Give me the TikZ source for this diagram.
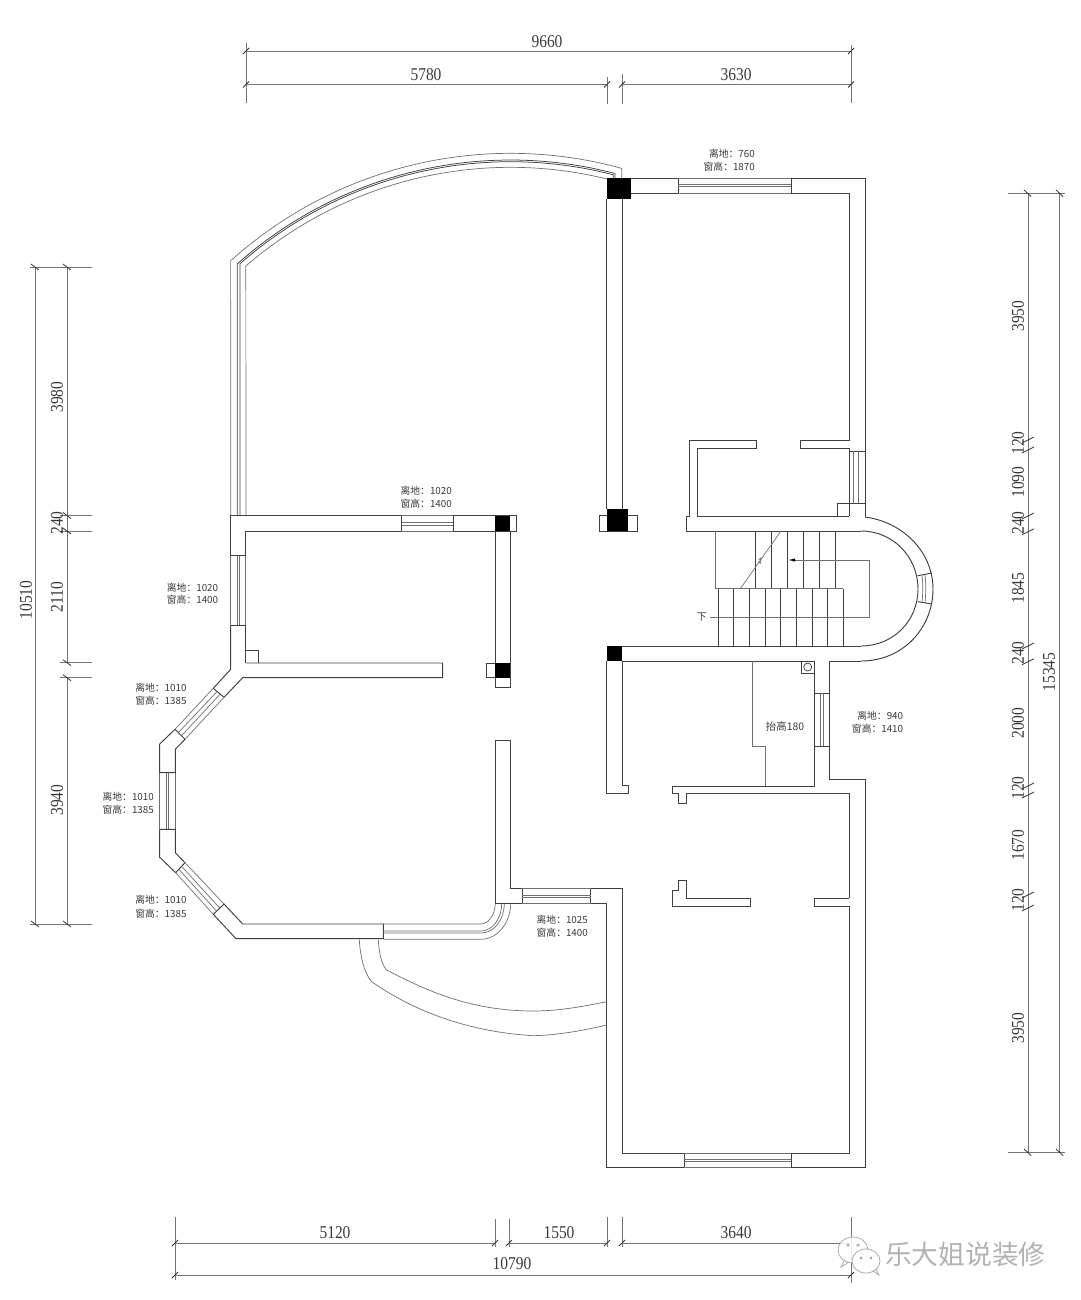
\documentclass[tikz,border=0pt]{standalone}
\usepackage{fontspec}
\setmainfont{Liberation Sans}
\newfontfamily\cjkfont{Noto Sans CJK SC}
\newfontfamily\dimfont[FakeStretch=0.86]{Liberation Serif}
\definecolor{wallc}{HTML}{404040}
\definecolor{thinc}{HTML}{707070}
\definecolor{dimc}{HTML}{757575}
\definecolor{txtc}{HTML}{3A3A3A}
\tikzset{
  wall/.style={draw=wallc,line width=0.95pt,line join=miter},
  thinl/.style={draw=thinc,line width=0.7pt},
  dimline/.style={draw=dimc,line width=0.8pt},
  slash/.style={draw=black!80,line width=0.8pt},
  dimtext/.style={text=txtc,font=\dimfont\fontsize{18}{18}\selectfont,inner sep=0pt},
  dimtextv/.style={dimtext,rotate=90},
  winlabel/.style={text=txtc,font=\cjkfont\fontsize{9.8}{10}\selectfont,inner sep=0pt,anchor=east}
}
\newcommand{\hslash}[2]{\draw[slash] (#1-3,#2+3) -- (#1+3,#2-3);}
\begin{document}
\begin{tikzpicture}[x=1pt,y=-1pt]
\useasboundingbox (0,0) rectangle (1080,1300);
\fill[white] (0,0) rectangle (1080,1300);

% ---- top dimensions
\draw[dimline] (246,51) -- (851,51);
\draw[dimline] (246,84.5) -- (607,84.5);
\draw[dimline] (622,84.5) -- (851,84.5);
\draw[dimline] (246,43) -- (246,103);
\draw[dimline] (607,77) -- (607,104) (622,74) -- (622,104);
\draw[dimline] (851,45) -- (851,103);
\hslash{246}{51}\hslash{851}{51}\hslash{246}{84.5}\hslash{607}{84.5}\hslash{622}{84.5}\hslash{851}{84.5}
\node[dimtext] (d9660) at (547,42) {9660};
\node[dimtext] (d5780) at (426,75) {5780};
\node[dimtext] (d3630) at (736,75) {3630};

% ---- bottom dimensions
\draw[dimline] (175,1243) -- (495,1243) (509,1243) -- (607,1243) (622,1243) -- (851,1243);
\draw[dimline] (175,1275) -- (851,1275);
\draw[dimline] (175,1217) -- (175,1280);
\draw[dimline] (495,1219) -- (495,1247) (509,1219) -- (509,1247) (607,1217) -- (607,1247) (622,1217) -- (622,1247);
\draw[dimline] (851,1217) -- (851,1283);
\hslash{175}{1243}\hslash{495}{1243}\hslash{509}{1243}\hslash{607}{1243}\hslash{622}{1243}\hslash{175}{1275}\hslash{851}{1275}
\node[dimtext] (d5120) at (335,1233) {5120};
\node[dimtext] (d1550) at (559,1233) {1550};
\node[dimtext] (d3640) at (736,1233) {3640};
\node[dimtext] (d10790) at (512,1264) {10790};

% ---- left dimensions
\draw[dimline] (35,267) -- (35,924);
\draw[dimline] (67,267) -- (67,662.7) (67,677.7) -- (67,924);
\draw[dimline] (30,267) -- (92,267) (60,515.5) -- (92,515.5) (60,531) -- (92,531);
\draw[dimline] (60,662.7) -- (92,662.7) (60,677.7) -- (92,677.7) (30,924) -- (92,924);
\foreach \yy in {267,515.5,531,662.7,677.7,924}{\draw[slash] (63,\yy-3) -- (71,\yy+3);}
\draw[slash] (31,264) -- (39,270) (31,921) -- (39,927);
\node[dimtextv] (d3980) at (57,397) {3980};
\node[dimtextv] (dl240) at (57,523) {240};
\node[dimtextv] (d2110) at (57,597) {2110};
\node[dimtextv] (d3940) at (57,800) {3940};
\node[dimtextv] (d10510) at (26,600) {10510};

% ---- right dimensions
\draw[dimline] (1028,193) -- (1028,1152);
\draw[dimline] (1059.5,193) -- (1059.5,1152);
\draw[dimline] (1008,193) -- (1065,193) (1008,1152) -- (1065,1152);
\foreach \yy in {440,450,516,531.7,646,661.7,786,795,895,908}{\draw[slash] (1022,\yy+3) -- (1034,\yy-3);}
\draw[slash] (1024,190) -- (1031,196.5) (1056,190) -- (1063,196.5) (1024,1149) -- (1031,1155.5) (1056,1149) -- (1063,1155.5);
\node[dimtextv] (r3950a) at (1018,316) {3950};
\node[dimtextv] (r120a) at (1018,443) {120};
\node[dimtextv] (r1090) at (1018,482) {1090};
\node[dimtextv] (r240a) at (1018,523) {240};
\node[dimtextv] (r1845) at (1018,588) {1845};
\node[dimtextv] (r240b) at (1018,653) {240};
\node[dimtextv] (r2000) at (1018,723) {2000};
\node[dimtextv] (r120b) at (1018,788) {120};
\node[dimtextv] (r1670) at (1018,845) {1670};
\node[dimtextv] (r120c) at (1018,900) {120};
\node[dimtextv] (r3950b) at (1018,1028) {3950};
\node[dimtextv] (r15345) at (1049,672) {15345};

% ---- top curved window (four concentric arcs)
\draw[thinl] (230.7,516) -- plot[domain=132:74.6,samples=50] ({510.6+418.4*cos(\x)},{571.7-418.4*sin(\x)}) -- (621.7,178);
\draw[wall,line width=.75pt] (237.3,516) -- plot[domain=131.6:75.3,samples=50] ({510.6+411.7*cos(\x)},{571.7-411.7*sin(\x)}) -- (615,178);
\draw[wall,line width=.75pt] (240,516) -- plot[domain=131.3:75.5,samples=50] ({510.6+410*cos(\x)},{571.7-410*sin(\x)}) -- (613.3,178);
\draw[thinl] (246,516) -- plot[domain=130.9:76.25,samples=50] ({510.6+404.4*cos(\x)},{571.7-404.4*sin(\x)});

% ---- pillars
\fill[black] (606.7,178.3) rectangle (630.7,199);
\draw[wall] (599,515.7) rectangle (637,531);
\fill[black] (606.7,509.3) rectangle (628,531);
\draw[wall] (495.3,515.7) -- (516,515.7) -- (516,531) -- (495.3,531);
\fill[black] (495.3,515.7) rectangle (510,531);
\draw[wall] (486.7,663) rectangle (510,677.7);
\fill[black] (495.3,663) rectangle (510,677.7);
\fill[black] (606.7,646) rectangle (622.3,661);

% ---- central column walls
\draw[wall] (606.7,199) -- (606.7,509.3) (622.3,199) -- (622.3,509.3);
\draw[wall] (495.3,531) -- (495.3,663) (510,531) -- (510,663);
\draw[wall] (495.3,677.7) -- (495.3,687.3) -- (510,687.3) -- (510,677.7);

% ---- top right room
\draw[wall] (630.7,178) -- (678,178) (791,178) -- (865,178) -- (865,516.7);
\draw[wall] (630.7,193) -- (678,193) (791,193) -- (849,193) -- (849,440) -- (800,440) -- (800,448) -- (849,448) -- (849,516);
\draw[wall] (678,178) -- (678,193) (791,178) -- (791,193);
\draw[thinl] (678,178) -- (791,178) (678,193) -- (791,193);
\draw[thinl] (678,184) -- (791,184) (678,186.5) -- (791,186.5);
% closet
\draw[wall] (756,440) -- (689,440) -- (689,516) -- (686,516) -- (686,531) -- (861,531);
\draw[wall] (756,440) -- (756,448) -- (697,448) -- (697,516) -- (849,516);
\draw[wall] (837,516) -- (837,503) -- (865,503);
\draw[wall] (849,451) -- (865,451);
\draw[thinl] (853,451) -- (853,503) (858,451) -- (858,503);

% ---- stair tower arcs
\draw[wall] (865,517) .. controls (903,522) and (933,552) .. (933,589) .. controls (933,628) and (903,661) .. (861,661);
\draw[wall] (861,531) .. controls (893,531) and (918,557) .. (918,589) .. controls (918,621) and (893,646) .. (861,646);
\draw[wall] (622.3,646) -- (861,646);
\draw[wall] (829,661) -- (861,661);
\draw[wall] (622.3,661) -- (814,661);
\draw[wall] (917.7,575.7) -- (932,573) (918,601.7) -- (932,604);
\draw[thinl] (922,575.5) .. controls (923,584) and (923,593) .. (922,602.5);
\draw[thinl] (925,575) .. controls (926,584) and (926,593) .. (925,603);

% ---- stairs
\foreach \xx in {755.3,771.7,787.3,803.3,819.3,835.7}{\draw[wall,line width=.75pt] (\xx,531) -- (\xx,588.7);}
\draw[thinl] (715,531) -- (715,588.7) -- (843.3,588.7);
\foreach \xx in {718.3,733.7,749.3,765,780.7,796.3,812.3,827.7,843.3}{\draw[wall,line width=.75pt] (\xx,588.7) -- (\xx,646);}
\draw[thinl] (781,531) -- (740.3,588.7);
\draw[thinl] (758.5,560) -- (761,558) -- (760.5,563) -- (758.5,562);
\draw[thinl] (710,617.7) -- (869.3,617.7) -- (869.3,560) -- (793,560);
\fill[black] (789,560) -- (795,558.4) -- (795,561.6) -- cycle;
\node[text=txtc,font=\cjkfont\fontsize{10}{10}\selectfont,inner sep=0pt] (xia) at (701.7,616.7) {下};

% ---- middle wall below stairs
\draw[wall] (622.3,661) -- (622.3,785.7) -- (628,785.7) -- (628,793.5) -- (606.7,793.5) -- (606.7,661);
\draw[wall] (814,661) -- (814,786) -- (672,786) -- (672,793) -- (678,793) -- (678,803) -- (686,803) -- (686,793) -- (849,793) -- (849,898);
\draw[wall] (829,661) -- (829,779) -- (865,779) -- (865,1167) -- (791,1167) (684,1167) -- (606.7,1167) -- (606.7,903.3) -- (590.7,903.3);
\draw[wall] (814,693) -- (829,693) (814,746) -- (829,746);
\draw[thinl] (820,693) -- (820,746) (823,693) -- (823,746);
\draw[wall] (801,661) -- (801,673) -- (814,673);
\draw[wall,line width=.75pt] (807.7,667) circle[radius=4];
\draw[thinl] (752,661) -- (752,746) -- (765,746) -- (765,786);
\draw[wall] (686,880) -- (678,880) -- (678,890) -- (672,890) -- (672,906) -- (750,906) -- (750,898) -- (686,898) -- cycle;
\draw[wall] (849,898) -- (814,898) -- (814,906) -- (849,906);
\draw[wall] (849,906) -- (849,1153) -- (791,1153) (684,1153) -- (622.3,1153) -- (622.3,888.3) -- (590.7,888.3) -- (590.7,903.3);
\draw[wall] (684,1153) -- (684,1167) (791,1153) -- (791,1167);
\draw[thinl] (684,1153) -- (791,1153) (684,1167) -- (791,1167);
\draw[thinl] (684,1159) -- (791,1159) (684,1161.5) -- (791,1161.5);

% ---- left room
\draw[wall] (230.7,555.7) -- (230.7,515.7) -- (401.3,515.7) (453.3,515.7) -- (495.3,515.7);
\draw[wall] (245.7,555.7) -- (245.7,531) -- (401.3,531) (453.3,531) -- (495.3,531);
\draw[wall] (230.7,555.7) -- (245.7,555.7);
\draw[wall] (401.3,515.7) -- (401.3,531) (453.3,515.7) -- (453.3,531);
\draw[thinl] (401.3,515.7) -- (453.3,515.7) (401.3,531) -- (453.3,531);
\draw[thinl] (401.3,522.7) -- (453.3,522.7) (401.3,525.3) -- (453.3,525.3);
\draw[thinl] (230.7,555.7) -- (230.7,625.3) (245.7,555.7) -- (245.7,625.3);
\draw[thinl] (237.3,555.7) -- (237.3,625.3) (239.3,555.7) -- (239.3,625.3);
\draw[wall] (230.7,625.3) -- (245.7,625.3) -- (245.7,663);
\draw[wall] (245.7,650) -- (258.3,650) -- (258.3,663);
\draw[wall] (245.7,663) -- (442.7,663) -- (442.7,677.7) -- (242.7,677.7) -- (224,697.3);
\draw[wall] (230.7,625.3) -- (230.7,669.3) -- (213.3,688.3);
\draw[wall] (213.3,688.3) -- (224,697.3);
% upper diagonal window
\draw[thinl] (213.3,688.3) -- (175,729.3) (224,697.3) -- (185,739.3);
\draw[thinl] (217,691.5) -- (178.5,732.5) (220,694.2) -- (181.5,735.8);
\draw[wall] (175,729.3) -- (185,739.3);
\draw[wall] (175,729.3) -- (159.7,744) -- (159.7,772.7) -- (175.3,772.7) -- (175.3,749.3) -- (185,739.3);
% left vertical window
\draw[thinl] (159.7,772.7) -- (159.7,829.3) (175.3,772.7) -- (175.3,829.3);
\draw[thinl] (166.3,772.7) -- (166.3,829.3) (168.7,772.7) -- (168.7,829.3);
\draw[wall] (159.7,829.3) -- (175.3,829.3) -- (175.3,852.7) -- (185,862.7);
\draw[wall] (159.7,829.3) -- (159.7,857.3) -- (175.7,872.7) -- (185,862.7);
% lower diagonal window
\draw[thinl] (175.7,872.7) -- (213.3,914.3) (185,862.7) -- (224,904);
\draw[thinl] (179,869.5) -- (216.5,911) (181.7,866.5) -- (219.5,907.8);
\draw[wall] (213.3,914.3) -- (224,904) -- (242.7,924) -- (383.3,924) -- (383.3,938.7) -- (236,938.7) -- (213.3,914.3);
% bottom curved window
\draw[thinl] (383.3,924) -- (480.7,924) .. controls (489,924) and (495.3,914) .. (495.3,903.3);
\draw[thinl] (383.3,931) -- (480.7,931) .. controls (493,931) and (501.7,918) .. (501.7,903.3);
\draw[thinl] (383.3,933) -- (480.7,933) .. controls (495,933) and (504.3,919) .. (504.3,903.3);
\draw[thinl] (383.3,939.3) -- (480.7,939.3) .. controls (498,939.3) and (510.7,922) .. (510.7,903.3);
% walls near the bottom window
\draw[wall] (495,740) -- (510,740) -- (510,888.3) -- (522.3,888.3) -- (522.3,903.3) -- (495,903.3) -- cycle;
\draw[thinl] (522.3,888.3) -- (590.7,888.3);
\draw[thinl] (522.3,903.3) -- (590.7,903.3);
\draw[thinl] (522.3,895.3) -- (590.7,895.3) (522.3,897.7) -- (590.7,897.7);

% ---- balcony curves
\draw[thinl] (378.3,939.3) .. controls (379,952) and (381,964) .. (386.7,970) .. controls (425,990) and (470,1011) .. (533.3,1011) .. controls (560,1011) and (585,1006) .. (606.7,1001.7);
\draw[thinl] (359.3,939.3) .. controls (360,955) and (364,973) .. (371.7,981.7) .. controls (415,1012) and (470,1032) .. (533.3,1035.7) .. controls (560,1035) and (585,1030) .. (606.7,1025);

% ---- window labels
\node[winlabel] (w1a) at (755,153.3) {离地：760};
\node[winlabel] (w1b) at (755,166.7) {窗高：1870};
\node[winlabel] (w2a) at (452,491) {离地：1020};
\node[winlabel] (w2b) at (452,504) {窗高：1400};
\node[winlabel] (w3a) at (218.3,587.3) {离地：1020};
\node[winlabel] (w3b) at (218.3,600) {窗高：1400};
\node[winlabel] (w4a) at (186.7,687.7) {离地：1010};
\node[winlabel] (w4b) at (186.7,701) {窗高：1385};
\node[winlabel] (w5a) at (154,797) {离地：1010};
\node[winlabel] (w5b) at (154,810) {窗高：1385};
\node[winlabel] (w6a) at (186.7,900) {离地：1010};
\node[winlabel] (w6b) at (186.7,913.3) {窗高：1385};
\node[winlabel] (w7a) at (588,920) {离地：1025};
\node[winlabel] (w7b) at (588,932.7) {窗高：1400};
\node[winlabel] (w8a) at (903.3,716) {离地：940};
\node[winlabel] (w8b) at (903.3,729) {窗高：1410};
\node[text=txtc,font=\cjkfont\fontsize{10.4}{11}\selectfont,inner sep=0pt] (taigao) at (785,727) {抬高180};

% ---- watermark
\begin{scope}[draw=gray!65,line width=0.8pt]
\draw[fill=white,fill opacity=0.85] (853,1250) ellipse[x radius=15,y radius=13];
\draw (844,1261) -- (841,1267) -- (849,1262);
\draw[fill=white,fill opacity=0.9] (866,1261) ellipse[x radius=14,y radius=12];
\draw (873,1271) -- (879,1275) -- (876,1269);
\draw (848,1245) circle[radius=1.2] (858,1245) circle[radius=1.2] (861,1258) circle[radius=1] (871,1258) circle[radius=1];
\end{scope}
\node[text=gray!60,font=\cjkfont\fontsize{26.7}{27}\selectfont,inner sep=0pt,anchor=west] (wm) at (885,1254) {乐大姐说装修};
\end{tikzpicture}
\end{document}
